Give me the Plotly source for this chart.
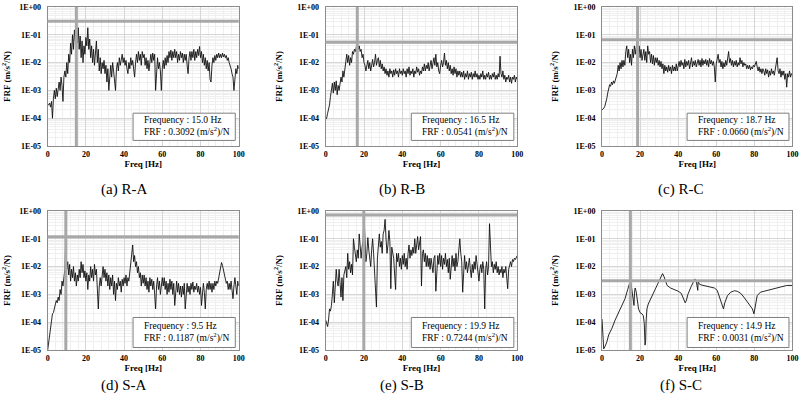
import plotly.graph_objects as go

# ---------------- data ----------------
freq_grid = [i * 0.5 for i in range(201)]  # 0 .. 100 Hz, 0.5 Hz step

frf_ra = [
    3e-4, 3e-4, 3.5e-4, 2.5e-4, 4e-4, 1e-4, 5e-4, 1e-3, 5e-4, 1.2e-3, 6e-4, 1.5e-3, 2e-3, 1e-3, 3e-3, 1.5e-3, 4e-4, 3e-3, 5e-3, 3e-3,
    1e-2, 4e-3, 2e-2, 1e-2, 5e-2, 2e-2, 1e-1, 3e-2, 1.5e-1, 6e-2, 3.092e-1, 5e-2, 1.8e-1, 3e-2, 9e-2, 1.5e-2, 6e-2, 1e-2, 4e-2, 2e-2,
    8e-2, 4e-2, 1.8e-1, 3e-2, 7e-2, 1.5e-2, 4e-2, 1e-2, 3e-2, 8e-3, 2e-2, 6e-2, 1e-2, 3e-2, 5e-3, 1.5e-2, 4e-3, 1e-2, 6e-3, 1.2e-2,
    4e-3, 8e-3, 2e-3, 6e-3, 1e-3, 4e-3, 8e-3, 3e-3, 1e-2, 5e-3, 2e-3, 1e-3, 6e-3, 1e-2, 5e-3, 1.5e-2, 8e-3, 1.2e-2, 2e-2, 1e-2,
    1.5e-2, 8e-3, 1.2e-2, 6e-3, 4e-3, 1e-2, 6e-3, 1.5e-2, 8e-3, 1.2e-2, 5e-3, 3e-3, 1e-2, 2e-2, 1e-2, 2.5e-2, 1.2e-2, 2e-2, 8e-3, 2.5e-2,
    1.5e-2, 2e-2, 8e-3, 1.5e-2, 6e-3, 1.2e-2, 5e-3, 1e-2, 2e-2, 1e-2, 2.2e-2, 1.2e-2, 2e-2, 1e-3, 8e-3, 1.5e-2, 6e-3, 1e-2, 5e-3, 1e-3,
    6e-3, 1.2e-2, 6e-3, 1.5e-2, 8e-3, 1.8e-2, 1e-2, 2.5e-2, 1.5e-2, 2.8e-2, 1.2e-2, 2.5e-2, 1.5e-2, 3e-2, 1.5e-2, 2.5e-2, 1e-2, 2e-2, 1.2e-2, 2.5e-2,
    1.5e-2, 2.2e-2, 1e-2, 2e-2, 1.2e-2, 2e-2, 8e-3, 4e-3, 1.5e-2, 2.5e-2, 1.2e-2, 2.5e-2, 1.5e-2, 3e-2, 1.2e-2, 2.5e-2, 1.5e-2, 3e-2, 1.8e-2, 3.8e-2,
    1.5e-2, 2.5e-2, 1e-2, 2e-2, 8e-3, 1.5e-2, 6e-3, 1.2e-2, 5e-3, 1e-2, 2.5e-3, 2e-3, 8e-3, 1.5e-2, 1e-2, 1.8e-2, 1.2e-2, 2e-2, 1.5e-2, 2.2e-2,
    1.5e-2, 2e-2, 1.5e-2, 2.2e-2, 1.6e-2, 2e-2, 1.5e-2, 1.8e-2, 1.2e-2, 1.5e-2, 1e-2, 8e-3, 6e-3, 4e-3, 3e-3, 1e-3, 3e-3, 6e-3, 4e-3, 8e-3, 6e-3,
]

frf_rb = [
    9e-5, 1e-4, 1.5e-4, 2e-4, 3e-4, 6e-4, 1.2e-3, 1.8e-3, 8e-4, 2e-3, 1e-3, 2.2e-3, 7e-4, 1.5e-3, 1e-3, 2e-3, 3e-3, 2e-3, 5e-3, 3e-3,
    6e-3, 1.2e-2, 2e-2, 1e-2, 1.8e-2, 8e-3, 1.5e-2, 1e-2, 2.5e-2, 2e-2, 3e-2, 2.5e-2, 4e-2, 5.41e-2, 3e-2, 4e-2, 2.5e-2, 3e-2, 1.5e-2, 2e-2,
    1e-2, 8e-3, 5e-3, 8e-3, 1.2e-2, 6e-3, 1e-2, 5e-3, 9e-3, 1.3e-2, 7e-3, 1e-2, 2e-2, 8e-3, 1.2e-2, 1.5e-2, 7e-3, 1.2e-2, 6e-3, 9e-3,
    5e-3, 7e-3, 4e-3, 6e-3, 3.5e-3, 5e-3, 3e-3, 6e-3, 4e-3, 5e-3, 3e-3, 5.5e-3, 3.5e-3, 6e-3, 4e-3, 5e-3, 3e-3, 6e-3, 4e-3, 5e-3,
    3.5e-3, 6e-3, 4e-3, 5e-3, 3e-3, 6e-3, 4e-3, 7e-3, 3.5e-3, 5e-3, 4e-3, 6e-3, 3e-3, 5e-3, 4e-3, 7e-3, 4.5e-3, 6e-3, 3.5e-3, 5e-3,
    4e-3, 7e-3, 5e-3, 9e-3, 5e-3, 8e-3, 6e-3, 1e-2, 5e-3, 8e-3, 1.2e-2, 6e-3, 1e-2, 1.5e-2, 8e-3, 2e-2, 7e-3, 1e-2, 5e-3, 4e-3,
    8e-3, 1.2e-2, 7e-3, 1e-2, 2.2e-2, 8e-3, 1.2e-2, 6e-3, 1e-2, 5e-3, 8e-3, 4e-3, 6e-3, 3.5e-3, 7e-3, 4e-3, 6e-3, 3e-3, 5e-3, 3.5e-3,
    5e-3, 3e-3, 4.5e-3, 3e-3, 5e-3, 2.5e-3, 4e-3, 3e-3, 5e-3, 2.5e-3, 4e-3, 3e-3, 4.5e-3, 2.5e-3, 4e-3, 3e-3, 5e-3, 3e-3, 4e-3, 2.5e-3,
    3.5e-3, 2.5e-3, 4e-3, 3e-3, 5e-3, 2.5e-3, 3.5e-3, 2.5e-3, 4e-3, 3e-3, 4.5e-3, 2.5e-3, 3.5e-3, 2.5e-3, 4e-3, 3e-3, 4.5e-3, 2.5e-3, 3.5e-3, 2.5e-3,
    4e-3, 3e-3, 1.7e-2, 4e-3, 3e-3, 5e-3, 2.5e-3, 3.5e-3, 2e-3, 3e-3, 2.5e-3, 3.5e-3, 2e-3, 3e-3, 1.8e-3, 3e-3, 2.5e-3, 3.5e-3, 2e-3, 3e-3, 2.5e-3,
]

frf_rc = [
    2e-4, 2.1e-4, 2.3e-4, 2.7e-4, 3.5e-4, 5e-4, 8e-4, 1.2e-3, 1.6e-3, 1.4e-3, 2e-3, 1.6e-3, 2.2e-3, 1.8e-3, 2.5e-3, 2.8e-3, 4e-3, 8e-3, 5e-3, 1e-2,
    6e-3, 1.2e-2, 7e-3, 1.2e-2, 8e-3, 2.5e-2, 4e-2, 1.5e-2, 3e-2, 1e-2, 2e-2, 8e-3, 3e-2, 1.5e-2, 4e-2, 2e-2, 3.5e-2, 6.6e-2, 2e-2, 4e-2,
    1.5e-2, 3e-2, 1.2e-2, 2e-2, 3e-2, 1.2e-2, 2.5e-2, 1e-2, 4e-2, 2e-2, 2.5e-2, 1e-2, 2e-2, 9e-3, 1.8e-2, 8e-3, 1.5e-2, 1e-2, 1.5e-2, 8e-3,
    1.2e-2, 7e-3, 1.1e-2, 6e-3, 9e-3, 4e-3, 8e-3, 5e-3, 7e-3, 4.5e-3, 8e-3, 5e-3, 7e-3, 4e-3, 8e-3, 5e-3, 7e-3, 5e-3, 9e-3, 5e-3,
    8e-3, 1.1e-2, 7e-3, 1.2e-2, 8e-3, 1e-2, 6e-3, 1.3e-2, 7e-3, 1.1e-2, 8e-3, 1.2e-2, 6e-3, 1e-2, 1.5e-2, 7e-3, 1.1e-2, 8e-3, 1.2e-2, 7e-3,
    1e-2, 1.3e-2, 8e-3, 1.2e-2, 7e-3, 1.4e-2, 8e-3, 1.2e-2, 9e-3, 1.3e-2, 8e-3, 1.2e-2, 7e-3, 1.4e-2, 9e-3, 1.2e-2, 8e-3, 1.1e-2, 7e-3, 2e-3,
    9e-3, 1.5e-2, 2e-2, 1e-2, 1.3e-2, 7e-3, 1.1e-2, 6e-3, 1e-2, 7e-3, 1.2e-2, 8e-3, 1.5e-2, 2.5e-2, 1e-2, 1.4e-2, 8e-3, 1.2e-2, 7e-3, 1.1e-2,
    8e-3, 1.2e-2, 7e-3, 1e-2, 8e-3, 1.5e-2, 9e-3, 1.2e-2, 7e-3, 1e-2, 8e-3, 9e-3, 6e-3, 8e-3, 6e-3, 8e-3, 5.5e-3, 7e-3, 6e-3, 8e-3,
    7e-3, 9e-3, 1.1e-2, 7e-3, 5e-3, 7e-3, 4.5e-3, 6e-3, 4e-3, 6e-3, 5e-3, 3.5e-3, 6e-3, 4e-3, 5.5e-3, 3e-3, 5e-3, 3.5e-3, 6e-3, 4e-3,
    5e-3, 3.5e-3, 6e-3, 8e-3, 1.5e-2, 5e-3, 4e-3, 6e-3, 3e-3, 5e-3, 3.5e-3, 5e-3, 2.5e-3, 4e-3, 1.3e-3, 4e-3, 3e-3, 5e-3, 3e-3, 4e-3, 3.5e-3,
]

frf_sa = [
    1e-5, 2e-5, 4e-5, 8e-5, 1.5e-4, 2e-4, 2.2e-4, 3e-4, 4e-4, 6e-4, 5e-4, 8e-4, 6e-4, 1.5e-3, 1e-3, 3e-3, 2e-3, 5e-3, 8e-3, 1.187e-1,
    8e-3, 1.5e-2, 5e-3, 1.2e-2, 3e-3, 8e-3, 4e-3, 1e-2, 3e-3, 6e-3, 2e-3, 5e-3, 3e-3, 8e-3, 4e-3, 1.5e-2, 6e-3, 1.2e-2, 4e-3, 7e-3,
    3e-3, 6e-3, 1.5e-3, 5e-3, 3e-3, 1e-2, 4e-3, 8e-3, 3e-3, 1.2e-2, 5e-3, 8e-3, 2e-3, 3e-4, 2e-3, 4e-3, 2e-3, 6e-3, 1e-2, 4e-3,
    8e-3, 3e-3, 6e-3, 2e-3, 5e-3, 1.5e-3, 4e-3, 2e-3, 5e-3, 1e-3, 3e-3, 6e-4, 2.5e-3, 1.5e-3, 4e-3, 2e-3, 3e-3, 1.2e-3, 3.5e-3, 2e-3,
    4e-3, 2.5e-3, 5e-3, 2e-3, 4e-3, 3e-3, 6e-3, 1e-2, 2e-2, 6e-2, 1.5e-2, 2.5e-2, 1e-2, 1.5e-2, 6e-3, 1e-2, 4e-3, 6e-3, 2e-3, 5e-3,
    2.5e-3, 5e-3, 2e-3, 4e-3, 1.5e-3, 3e-3, 1.2e-3, 4e-3, 2e-3, 3.5e-3, 1.5e-3, 3e-3, 1e-3, 3e-4, 2e-3, 4e-3, 1.5e-3, 3e-3, 1e-3, 2.5e-3,
    4e-3, 2e-3, 4e-3, 1.5e-3, 3e-3, 1e-3, 2.5e-3, 1.2e-3, 3.5e-3, 1.5e-3, 3e-3, 1e-3, 2.5e-3, 4e-4, 2e-3, 3e-3, 1.2e-3, 2.5e-3, 1e-3, 2e-3,
    8e-4, 2e-3, 1e-3, 2.5e-3, 3e-4, 1.5e-3, 2.5e-3, 1.2e-3, 2e-3, 1e-3, 2.5e-3, 1.5e-3, 2.8e-3, 1.2e-3, 2e-3, 1.5e-3, 2.5e-3, 1.2e-3, 2e-3, 1e-3,
    1.8e-3, 4e-4, 1.5e-3, 2.5e-3, 1.2e-3, 3e-4, 1.5e-3, 2.5e-3, 1.5e-3, 3e-3, 1.5e-3, 2.5e-3, 1.2e-3, 2.5e-3, 1.5e-3, 3e-3, 2e-3, 3e-3, 2.5e-3, 4e-3,
    6e-3, 1e-2, 1.4e-2, 1.1e-2, 8e-3, 5e-3, 4e-3, 2.5e-3, 3e-3, 1.5e-3, 2.5e-3, 1.5e-3, 3e-3, 1e-3, 7e-4, 2e-3, 4e-3, 2e-3, 1e-3, 3e-3, 2e-3,
]

frf_sb = [
    1.2e-4, 9e-5, 7e-5, 1.2e-4, 3e-4, 2.5e-4, 4e-4, 1e-3, 3e-3, 5e-4, 2e-3, 8e-3, 3e-3, 2e-3, 8e-3, 2e-3, 8e-4, 4e-3, 6e-4, 5e-3,
    8e-3, 1e-2, 4e-3, 3e-2, 8e-3, 1.5e-2, 6e-3, 1.2e-2, 5e-3, 1e-1, 5e-2, 3e-2, 1.5e-2, 4e-2, 2e-2, 1.5e-1, 3e-2, 2e-2, 5e-2, 8e-2,
    7.244e-1, 5e-2, 1.5e-2, 3e-2, 1.1e-1, 4e-2, 2e-2, 1e-2, 4e-2, 1e-1, 3e-2, 8e-3, 3e-3, 3.5e-4, 2e-2, 6e-2, 1.5e-1, 5e-2, 8e-2, 3e-2,
    1.5e-1, 2e-1, 5e-1, 1e-1, 3e-2, 6e-2, 2e-1, 8e-2, 1.6e-3, 5e-2, 3e-2, 2e-2, 5e-3, 1.5e-3, 3e-2, 1.5e-2, 3e-2, 1e-2, 2e-2, 8e-3,
    2.5e-2, 1.2e-2, 3e-2, 1e-2, 2e-2, 8e-3, 3e-2, 6e-2, 2e-2, 4e-2, 2.5e-2, 5e-2, 3e-2, 1e-1, 3e-2, 5e-2, 1.2e-1, 4e-2, 7e-2, 1.2e-1,
    2e-3, 3e-2, 4e-2, 1.5e-2, 3e-2, 1e-2, 2.5e-2, 1e-2, 2e-2, 8e-3, 2e-2, 1e-2, 6e-3, 2e-2, 2.5e-2, 1.3e-3, 1e-2, 2.5e-2, 1.2e-2, 3e-2,
    1e-2, 2.5e-2, 8e-3, 2e-2, 1.2e-2, 3e-2, 1e-2, 1.8e-2, 6e-3, 2e-2, 3.5e-3, 1.5e-2, 2.5e-2, 1e-2, 2e-2, 7e-3, 3e-2, 1e-2, 1.5e-2, 4e-2,
    1e-1, 3e-2, 1.5e-2, 1.2e-3, 1e-2, 2.5e-2, 8e-3, 1.5e-2, 6e-3, 1.2e-2, 2e-2, 8e-3, 4e-3, 1.2e-2, 6e-3, 1.5e-2, 8e-3, 2.5e-2, 1e-2, 6e-3,
    3e-3, 8e-3, 1.2e-2, 6e-3, 1.5e-2, 8e-3, 3e-4, 8e-3, 1.5e-2, 5e-3, 1e-2, 3.5e-1, 2e-2, 1e-2, 1.5e-2, 6e-3, 1.2e-2, 8e-3, 1.5e-2, 6e-3,
    1e-2, 5e-3, 8e-3, 6e-3, 1e-2, 4e-3, 8e-3, 6e-3, 1e-2, 3e-3, 1.6e-3, 8e-3, 1.2e-2, 1.5e-2, 1e-2, 1.8e-2, 1.5e-2, 2e-2, 1.8e-2, 2.2e-2, 2.5e-2,
]

freq_sc = [0, 0.3, 0.9, 1.7, 2.6, 3.5, 5.2, 6.9, 8.7, 10.4, 12.1, 13.5, 14.4, 14.9, 15.3, 16, 16.5, 16.8, 17.1, 17.4,
           17.9, 18.3, 18.7, 19.2, 20, 21, 21.7, 22.2, 22.6, 22.9, 23.2, 23.6, 24.3, 26, 27.7, 29.5, 30.8, 31.8, 32.5, 33.3,
           34.2, 36, 38, 40, 41.6, 42.8, 43.7, 44.3, 45.1, 46.8, 48, 48.8, 49.5, 50.1, 50.3, 50.5, 51, 52, 55.5, 59,
           60.5, 61.5, 62.4, 63.3, 63.8, 64.5, 65.9, 67.6, 69.5, 71, 72.8, 74.5, 76.3, 78, 79, 79.8, 80.6, 81.5, 83.2, 85,
           87, 89, 91, 93, 95, 97, 100]
frf_sc = [1.3e-4, 4e-5, 1.1e-5, 1.4e-5, 2e-5, 3.5e-5, 6e-5, 1.2e-4, 2.2e-4, 3.8e-4, 7e-4, 1.5e-3, 2.5e-3, 3.1e-3, 2.3e-3, 1.2e-3, 7e-4, 4e-4, 1.2e-3, 1.7e-3,
          1.3e-3, 9e-4, 5e-4, 3e-4, 2.2e-4, 2e-4, 1.7e-4, 9e-5, 1.5e-5, 2e-5, 1.2e-4, 3e-4, 4.5e-4, 8e-4, 1.5e-3, 2.6e-3, 4e-3, 5.6e-3, 4.5e-3, 3e-3,
          2.1e-3, 1.7e-3, 1.5e-3, 1.3e-3, 1.1e-3, 7e-4, 5e-4, 6e-4, 1e-3, 1.9e-3, 3e-3, 3.6e-3, 3e-3, 2e-3, 1.4e-3, 3e-3, 2.4e-3, 2.2e-3, 1.9e-3, 1.7e-3,
          1.4e-3, 9e-4, 6e-4, 4e-4, 3e-4, 5e-4, 9e-4, 1.2e-3, 1.35e-3, 1.3e-3, 1.1e-3, 8e-4, 5.5e-4, 4e-4, 3e-4, 2e-4, 4e-4, 9e-4, 1.2e-3, 1.3e-3,
          1.4e-3, 1.5e-3, 1.6e-3, 1.8e-3, 2e-3, 2.1e-3, 2.1e-3]

peak_freq = [15.0, 16.5, 18.7, 9.5, 19.9, 14.9]
peak_frf = [0.3092, 0.0541, 0.0660, 0.1187, 0.7244, 0.0031]
captions = ["(a) R-A", "(b) R-B", "(c) R-C", "(d) S-A", "(e) S-B", "(f) S-C"]

y_tickvals = [1e-5, 1e-4, 1e-3, 1e-2, 1e-1, 1e0]
y_ticktext = ["1E-05", "1E-04", "1E-03", "1E-02", "1E-01", "1E+00"]
x_tickvals = [0, 20, 40, 60, 80, 100]

series_x = [freq_grid, freq_grid, freq_grid, freq_grid, freq_grid, freq_sc]
series_y = [frf_ra, frf_rb, frf_rc, frf_sa, frf_sb, frf_sc]

# ---------------- layout geometry / styles ----------------
SERIF = "Liberation Serif, Times New Roman, serif"
col_dom = [(0.0596, 0.2984), (0.4071, 0.6466), (0.7525, 0.9905)]
row_dom = [(0.6341, 0.9825), (0.1228, 0.4712)]
caption_x = [0.1556, 0.5025, 0.851]
caption_y = [0.524, 0.033]
box_y = [(0.04, 0.236), (0.018, 0.234)]
text_y = [0.138, 0.126]
minor_y = [m * 10.0 ** e for e in range(-5, 0) for m in range(2, 10)]

GRID = "#d6d6d6"
MINOR = "#efefef"
BORDER = "#8c8c8c"
REF = "#a8a8a8"

fig = go.Figure()
shapes = []
annotations = []

for i in range(6):
    r, c = divmod(i, 3)
    n = "" if i == 0 else str(i + 1)
    xa, ya = "x" + n, "y" + n

    fig.add_trace(go.Scatter(
        x=series_x[i], y=series_y[i], mode="lines",
        line=dict(color="#111111", width=0.9),
        xaxis=xa, yaxis=ya, showlegend=False, hoverinfo="skip"))

    fig.layout["xaxis" + n] = dict(
        domain=list(col_dom[c]), anchor=ya, range=[0, 100], automargin=False,
        tickmode="array", tickvals=x_tickvals, ticklabeloverflow="allow",
        showgrid=True, gridcolor=GRID, gridwidth=1,
        minor=dict(tickmode="linear", tick0=0, dtick=4, showgrid=True, gridcolor=MINOR, gridwidth=1),
        showline=True, mirror=True, linecolor=BORDER, linewidth=1,
        ticks="", zeroline=False,
        tickfont=dict(family=SERIF, size=8, color="black", weight="bold"),
        title=dict(text="Freq [Hz]", standoff=1,
                   font=dict(family=SERIF, size=9, color="black", weight="bold")),
    )
    fig.layout["yaxis" + n] = dict(
        domain=list(row_dom[r]), anchor=xa, type="log", range=[-5, 0], automargin=False,
        tickmode="array", tickvals=y_tickvals, ticktext=y_ticktext, ticklabeloverflow="allow",
        showgrid=True, gridcolor=GRID, gridwidth=1,
        minor=dict(tickmode="array", tickvals=minor_y, showgrid=True, gridcolor=MINOR, gridwidth=1),
        showline=True, mirror=True, linecolor=BORDER, linewidth=1,
        ticks="", zeroline=False, ticklabelstandoff=4,
        tickfont=dict(family=SERIF, size=8, color="black", weight="bold"),
        title=dict(text="FRF (m/s<sup>2</sup>/N)", standoff=13,
                   font=dict(family=SERIF, size=9, color="black", weight="bold")),
    )

    # reference lines at the identified peak
    shapes.append(dict(type="line", xref=xa, yref=ya + " domain",
                       x0=peak_freq[i], x1=peak_freq[i], y0=0, y1=1,
                       line=dict(color=REF, width=3), layer="above"))
    shapes.append(dict(type="line", xref=xa + " domain", yref=ya,
                       x0=0, x1=1, y0=peak_frf[i], y1=peak_frf[i],
                       line=dict(color=REF, width=3), layer="above"))
    # info box
    shapes.append(dict(type="rect", xref=xa + " domain", yref=ya + " domain",
                       x0=0.447, x1=0.982, y0=box_y[r][0], y1=box_y[r][1],
                       line=dict(color="#7f7f7f", width=1), fillcolor="white", layer="above"))
    annotations.append(dict(xref=xa + " domain", yref=ya + " domain",
                            x=0.494, y=text_y[r], xanchor="left", yanchor="middle", showarrow=False,
                            align="left",
                            text=(f"Frequency : {peak_freq[i]:.1f} Hz<br>"
                                  f"FRF : {peak_frf[i]:.4f} (m/s<sup>2</sup>)/N"),
                            font=dict(family=SERIF, size=9.5, color="black")))
    # caption
    annotations.append(dict(xref="paper", yref="paper", x=caption_x[c], y=caption_y[r],
                            xanchor="center", yanchor="middle", showarrow=False,
                            text=captions[i], font=dict(family=SERIF, size=15, color="black")))

fig.update_layout(
    width=800, height=399, margin=dict(l=0, r=0, t=0, b=0, autoexpand=False),
    paper_bgcolor="white", plot_bgcolor="white",
    shapes=shapes, annotations=annotations, showlegend=False,
)

fig.write_html(
    "out.html",
    config={"displayModeBar": False},
    post_script="document.body.style.margin='0';document.body.style.padding='0';"
                "document.body.style.overflow='hidden';",
)
